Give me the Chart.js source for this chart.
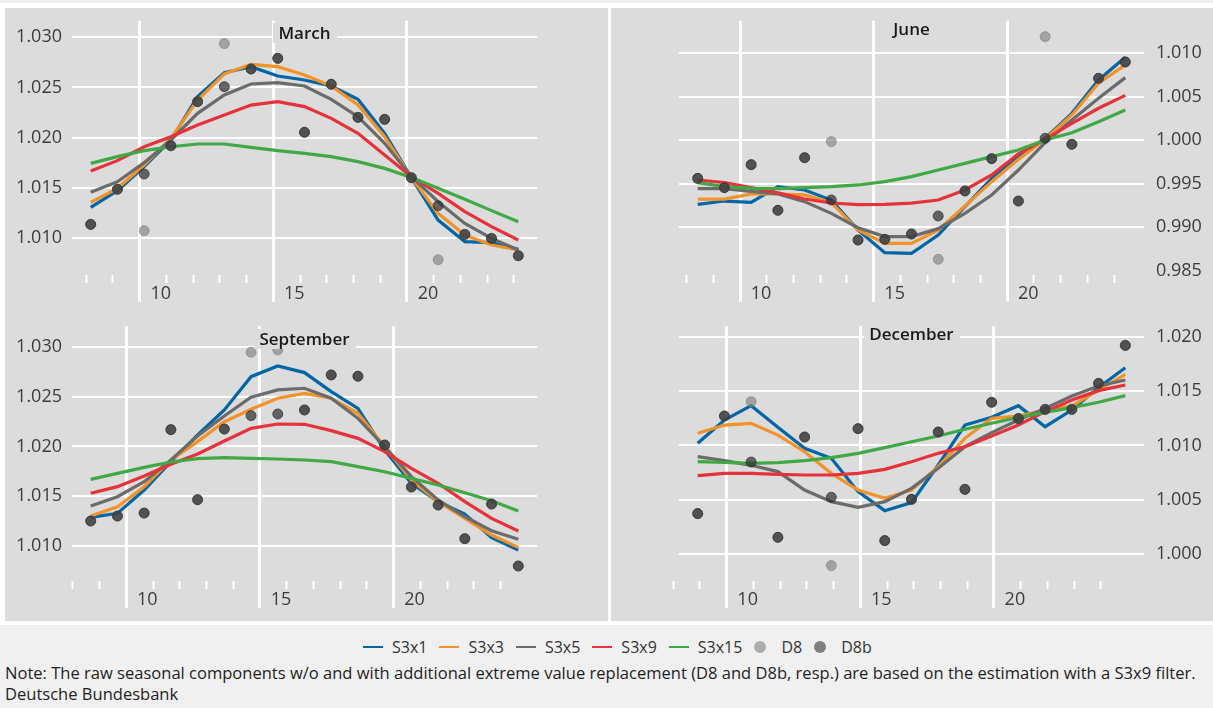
<!DOCTYPE html>
<html>
<head>
<meta charset="utf-8">
<script src="https://cdn.jsdelivr.net/npm/chart.js"></script>
<style>
  html, body { margin: 0; padding: 0; background: #ffffff; }
  body { width: 1213px; height: 708px; position: relative; overflow: hidden; font-family: 'Open Sans', sans-serif; }
  .strip { position: absolute; left: 0; top: 0; width: 1213px; height: 3px; background: #f0f0f0; }
  .panel { position: absolute; background: #dcdcdc; }
  .panel canvas { position: absolute; left: 0; top: 0; }
  .ptitle { position: absolute; transform: translateX(-50%); background: #dcdcdc; color: #1a1a1a;
            font-size: 17px; font-weight: 600; line-height: 20px; padding: 0 6px; white-space: nowrap; }
  #foot { position: absolute; left: 0; top: 625px; width: 1213px; height: 83px; background: #f0f0f0; }
  #legend { position: absolute; left: 363px; top: 10px; height: 24px; display: flex; align-items: center;
            font-size: 16px; color: #333; white-space: nowrap; }
  #legend .it { display: flex; align-items: center; margin-right: 12px; }
  #legend .ln { display: inline-block; width: 20px; height: 2px; margin-right: 9px; }
  #legend .dot { display: inline-block; width: 12px; height: 12px; border-radius: 50%; margin-right: 15px; }
  #note { position: absolute; left: 5px; top: 37px; font-size: 16.55px; line-height: 21px; color: #1e1e1e; white-space: nowrap; }
</style>
</head>
<body>
<div class="strip"></div>

<div class="panel" style="left:5px;top:8px;width:603px;height:302px;"><canvas id="cMar" width="603" height="302"></canvas></div>
<div class="panel" style="left:611px;top:8px;width:602px;height:302px;"><canvas id="cJun" width="602" height="302"></canvas></div>
<div class="panel" style="left:5px;top:310px;width:603px;height:311px;"><canvas id="cSep" width="603" height="311"></canvas></div>
<div class="panel" style="left:611px;top:310px;width:602px;height:311px;"><canvas id="cDec" width="602" height="311"></canvas></div>

<div class="ptitle" style="left:304.5px;top:22.8px;">March</div>
<div class="ptitle" style="left:911.5px;top:18.8px;">June</div>
<div class="ptitle" style="left:304.5px;top:328.8px;">September</div>
<div class="ptitle" style="left:911.5px;top:323.8px;">December</div>

<div id="foot">
  <div id="legend"></div>
  <div id="note">Note: The raw seasonal components w/o and with additional extreme value replacement (D8 and D8b, resp.) are based on the estimation with a S3x9 filter.<br>Deutsche Bundesbank</div>
</div>

<script>
// ---- data -------------------------------------------------------------
const YEARS = [2008, 2009, 2010, 2011, 2012, 2013, 2014, 2015, 2016, 2017, 2018, 2019, 2020, 2021, 2022, 2023, 2024];
const LABEL_YEARS = [2010, 2015, 2020];
const TICK_LABELS = ['10', '15', '20'];
const SERIES_NAMES = ['S3x1', 'S3x3', 'S3x5', 'S3x9', 'S3x15'];
const POINT_NAMES = ['D8', 'D8b'];

const MAR_TICKS = [1.010, 1.015, 1.020, 1.025, 1.030];
const MAR_S3X1  = [1.01303, 1.01469, 1.01709, 1.01975, 1.02408, 1.02647, 1.02707, 1.02614, 1.02574, 1.02514, 1.02381, 1.02042, 1.01599, 1.01176, 1.00960, 1.00950, 1.00884];
const MAR_S3X3  = [1.01353, 1.01493, 1.01725, 1.01992, 1.02374, 1.02634, 1.02730, 1.02707, 1.02624, 1.02514, 1.02324, 1.02008, 1.01599, 1.01243, 1.01027, 1.00927, 1.00877];
const MAR_S3X5  = [1.01453, 1.01559, 1.01749, 1.01975, 1.02241, 1.02424, 1.02534, 1.02547, 1.02514, 1.02381, 1.02208, 1.01942, 1.01609, 1.01359, 1.01143, 1.00993, 1.00877];
const MAR_S3X9  = [1.01666, 1.01769, 1.01908, 1.02008, 1.02125, 1.02225, 1.02324, 1.02358, 1.02308, 1.02191, 1.02042, 1.01825, 1.01609, 1.01443, 1.01260, 1.01110, 1.00977];
const MAR_S3X15 = [1.01742, 1.01809, 1.01869, 1.01908, 1.01935, 1.01935, 1.01902, 1.01869, 1.01842, 1.01809, 1.01759, 1.01692, 1.01602, 1.01493, 1.01383, 1.01270, 1.01160];
const MAR_D8    = [1.01133, 1.01483, 1.01070, 1.01918, 1.02358, 1.02937, 1.02684, 1.02790, 1.02052, 1.02531, 1.02201, 1.02181, 1.01599, 1.00780, 1.01033, 1.00993, 1.00820];
const MAR_D8B   = [1.01133, 1.01483, 1.01636, 1.01918, 1.02358, 1.02507, 1.02684, 1.02790, 1.02052, 1.02531, 1.02201, 1.02181, 1.01599, 1.01319, 1.01033, 1.00993, 1.00820];

const JUN_TICKS = [0.985, 0.990, 0.995, 1.000, 1.005, 1.010];
const JUN_S3X1  = [0.99261, 0.99299, 0.99284, 0.99464, 0.99426, 0.99311, 0.98965, 0.98704, 0.98697, 0.98908, 0.99234, 0.99560, 0.99810, 1.00021, 1.00309, 1.00693, 1.00954];
const JUN_S3X3  = [0.99322, 0.99322, 0.99380, 0.99380, 0.99369, 0.99280, 0.98965, 0.98812, 0.98812, 0.98965, 0.99242, 0.99522, 0.99779, 1.00010, 1.00290, 1.00655, 1.00866];
const JUN_S3X5  = [0.99441, 0.99441, 0.99411, 0.99380, 0.99292, 0.99157, 0.98992, 0.98889, 0.98889, 0.98981, 0.99157, 0.99369, 0.99656, 0.99971, 1.00232, 1.00482, 1.00720];
const JUN_S3X9  = [0.99541, 0.99511, 0.99453, 0.99395, 0.99322, 0.99276, 0.99257, 0.99261, 0.99276, 0.99311, 0.99426, 0.99599, 0.99841, 1.00010, 1.00194, 1.00367, 1.00516];
const JUN_S3X15 = [0.99511, 0.99464, 0.99445, 0.99441, 0.99453, 0.99464, 0.99484, 0.99522, 0.99580, 0.99656, 0.99733, 0.99810, 0.99887, 1.00002, 1.00086, 1.00213, 1.00347];
const JUN_D8    = [0.99560, 0.99453, 0.99718, 0.99192, 0.99798, 0.99983, 0.98850, 0.98858, 0.98919, 0.98628, 0.99415, 0.99787, 0.99299, 1.01192, 0.99952, 1.00712, 1.00900];
const JUN_D8B   = [0.99560, 0.99453, 0.99718, 0.99192, 0.99798, 0.99311, 0.98850, 0.98858, 0.98919, 0.99127, 0.99415, 0.99787, 0.99299, 1.00021, 0.99952, 1.00712, 1.00900];

const SEP_TICKS = [1.010, 1.015, 1.020, 1.025, 1.030];
const SEP_S3X1  = [1.01286, 1.01326, 1.01561, 1.01847, 1.02116, 1.02368, 1.02704, 1.02812, 1.02745, 1.02553, 1.02385, 1.01965, 1.01629, 1.01444, 1.01319, 1.01081, 1.00956];
const SEP_S3X3  = [1.01299, 1.01393, 1.01595, 1.01864, 1.02049, 1.02250, 1.02375, 1.02486, 1.02536, 1.02486, 1.02334, 1.01998, 1.01662, 1.01444, 1.01276, 1.01108, 1.00983];
const SEP_S3X5  = [1.01400, 1.01494, 1.01645, 1.01864, 1.02106, 1.02308, 1.02496, 1.02570, 1.02587, 1.02486, 1.02284, 1.01998, 1.01696, 1.01461, 1.01292, 1.01151, 1.01064];
const SEP_S3X9  = [1.01528, 1.01595, 1.01703, 1.01820, 1.01924, 1.02055, 1.02183, 1.02227, 1.02224, 1.02160, 1.02082, 1.01948, 1.01780, 1.01629, 1.01444, 1.01276, 1.01148];
const SEP_S3X15 = [1.01669, 1.01729, 1.01790, 1.01844, 1.01877, 1.01887, 1.01881, 1.01874, 1.01864, 1.01847, 1.01797, 1.01746, 1.01679, 1.01612, 1.01534, 1.01454, 1.01350];
const SEP_D8    = [1.01249, 1.01299, 1.01329, 1.02170, 1.01464, 1.02176, 1.02950, 1.02973, 1.02368, 1.02721, 1.02708, 1.02015, 1.01592, 1.01410, 1.01071, 1.01420, 1.00795];
const SEP_D8B   = [1.01249, 1.01299, 1.01329, 1.02170, 1.01464, 1.02176, 1.02311, 1.02328, 1.02368, 1.02721, 1.02708, 1.02015, 1.01592, 1.01410, 1.01071, 1.01420, 1.00795];

const DEC_TICKS = [1.000, 1.005, 1.010, 1.015, 1.020];
const DEC_S3X1  = [1.01020, 1.01234, 1.01366, 1.01167, 1.00974, 1.00882, 1.00576, 1.00401, 1.00475, 1.00821, 1.01188, 1.01259, 1.01366, 1.01173, 1.01326, 1.01534, 1.01715];
const DEC_S3X3  = [1.01112, 1.01188, 1.01204, 1.01096, 1.00943, 1.00744, 1.00591, 1.00515, 1.00591, 1.00806, 1.01066, 1.01250, 1.01271, 1.01326, 1.01363, 1.01510, 1.01654];
const DEC_S3X5  = [1.00897, 1.00861, 1.00818, 1.00760, 1.00591, 1.00484, 1.00432, 1.00484, 1.00606, 1.00790, 1.00989, 1.01118, 1.01234, 1.01341, 1.01455, 1.01547, 1.01602];
const DEC_S3X9  = [1.00723, 1.00744, 1.00744, 1.00735, 1.00729, 1.00729, 1.00744, 1.00781, 1.00851, 1.00928, 1.00989, 1.01087, 1.01188, 1.01311, 1.01418, 1.01504, 1.01556];
const DEC_S3X15 = [1.00851, 1.00845, 1.00836, 1.00842, 1.00861, 1.00888, 1.00928, 1.00980, 1.01035, 1.01087, 1.01149, 1.01204, 1.01259, 1.01305, 1.01348, 1.01397, 1.01458];
const DEC_D8    = [1.00374, 1.01271, 1.01403, 1.00156, 1.01078, 0.99896, 1.01155, 1.00126, 1.00505, 1.01124, 1.00597, 1.01397, 1.01247, 1.01332, 1.01332, 1.01571, 1.01920];
const DEC_D8B   = [1.00374, 1.01271, 1.00848, 1.00156, 1.01078, 1.00524, 1.01155, 1.00126, 1.00505, 1.01124, 1.00597, 1.01397, 1.01247, 1.01332, 1.01332, 1.01571, 1.01920];

// ---- styling ------------------------------------------------------------
const LINE_COLORS = ['#0066a6', '#f39228', '#6b6b6b', '#e5323b', '#40a844'];
const D8_FILL  = 'rgba(130,130,130,0.65)';
const D8B_FILL = 'rgba(45,45,45,0.7)';
const LEGEND_DOTS = ['#acacac', '#7f7f7f'];
const FONT = "'Open Sans', sans-serif";
const TICK_FONT = { family: FONT, size: 18 };
const TICK_COLOR = '#3c3c3c';
const X_PAD = 0.7;          // years of empty space on either side of the data
const TICK_ROW = 27;        // px above the plot bottom where the year ticks start

Chart.defaults.font.family = FONT;

function zeroPad(s) { s.paddingTop = 0; s.paddingBottom = 0; s.paddingLeft = 0; s.paddingRight = 0; }

function makePanel(id, month, lines, d8, d8b, yTicks, yMin, yMax, side, pad, hiddenGrid) {
  const shift = (month - 1) / 12;
  const xs = YEARS.map(y => y + shift);
  const xMin = xs[0] - X_PAD, xMax = xs[xs.length - 1] + X_PAD;
  const canvas = document.getElementById(id);
  const plotH = canvas.height - pad.top - pad.bottom;
  const rowVal = yMin + (yMax - yMin) * TICK_ROW / plotH;

  const datasets = [];
  lines.forEach((arr, k) => {
    datasets.push({
      label: SERIES_NAMES[k], data: arr.map((v, i) => ({ x: xs[i], y: v })),
      borderColor: LINE_COLORS[k], backgroundColor: LINE_COLORS[k], borderWidth: 3.2,
      pointRadius: 0, tension: 0, order: 6 - k, borderCapStyle: 'butt'
    });
  });
  datasets.push({
    label: POINT_NAMES[0], data: d8.map((v, i) => ({ x: xs[i], y: v })), showLine: false,
    pointRadius: 5, pointBorderWidth: 1, pointBackgroundColor: D8_FILL, pointBorderColor: D8_FILL, order: 1
  });
  datasets.push({
    label: POINT_NAMES[1], data: d8b.map((v, i) => ({ x: xs[i], y: v })), showLine: false,
    pointRadius: 5, pointBorderWidth: 1, pointBackgroundColor: D8B_FILL, pointBorderColor: D8B_FILL, order: 0
  });

  const axisW = side === 'left' ? 60 : 62;
  return new Chart(canvas, {
    type: 'line',
    data: { datasets },
    options: {
      responsive: false, animation: false, events: [],
      layout: { padding: pad },
      plugins: { legend: { display: false }, title: { display: false }, tooltip: { enabled: false } },
      scales: {
        x: {
          type: 'linear', min: xMin, max: xMax, position: { y: rowVal },
          grid: { color: '#ffffff', lineWidth: 3, drawTicks: false },
          border: { display: false },
          ticks: { font: TICK_FONT, color: TICK_COLOR, padding: 8, labelOffset: 21, maxRotation: 0, autoSkip: false,
                   callback: v => TICK_LABELS[LABEL_YEARS.indexOf(v)] },
          afterBuildTicks: s => { s.ticks = LABEL_YEARS.map(v => ({ value: v })); },
          afterFit: zeroPad
        },
        xm: {
          type: 'linear', axis: 'x', min: xMin, max: xMax, position: { y: rowVal },
          grid: { drawOnChartArea: false, drawTicks: true, tickLength: 8, tickWidth: 2, tickColor: '#ffffff', color: '#ffffff' },
          border: { display: false },
          ticks: { display: false, autoSkip: false },
          afterBuildTicks: s => { s.ticks = YEARS.map(v => ({ value: v })); },
          afterFit: zeroPad
        },
        y: {
          type: 'linear', position: side, min: yMin, max: yMax,
          grid: { lineWidth: 2, drawTicks: false,
                  color: c => (c.tick && hiddenGrid.some(h => Math.abs(h - c.tick.value) < 1e-9)) ? 'rgba(0,0,0,0)' : '#ffffff' },
          border: { display: false },
          ticks: { font: TICK_FONT, color: TICK_COLOR, padding: side === 'left' ? 10 : 12,
                   callback: v => v.toFixed(3) },
          afterBuildTicks: s => { s.ticks = yTicks.map(v => ({ value: v })); },
          afterFit: s => { s.width = axisW; zeroPad(s); }
        }
      }
    }
  });
}

makePanel('cMar', 3, [MAR_S3X1, MAR_S3X3, MAR_S3X5, MAR_S3X9, MAR_S3X15], MAR_D8, MAR_D8B,
          MAR_TICKS, 1.003613, 1.031657, 'left', { left: 7, right: 71, top: 12.7, bottom: 8.3 }, []);
makePanel('cJun', 6, [JUN_S3X1, JUN_S3X3, JUN_S3X5, JUN_S3X9, JUN_S3X15], JUN_D8, JUN_D8B,
          JUN_TICKS, 0.981399, 1.013754, 'right', { left: 68, right: 7, top: 12.7, bottom: 8.3 }, [0.985]);
makePanel('cSep', 9, [SEP_S3X1, SEP_S3X3, SEP_S3X5, SEP_S3X9, SEP_S3X15], SEP_D8, SEP_D8B,
          SEP_TICKS, 1.00375, 1.032147, 'left', { left: 7, right: 71, top: 16, bottom: 13.3 }, []);
makePanel('cDec', 12, [DEC_S3X1, DEC_S3X3, DEC_S3X5, DEC_S3X9, DEC_S3X15], DEC_D8, DEC_D8B,
          DEC_TICKS, 0.995092, 1.020983, 'right', { left: 68, right: 7, top: 16, bottom: 13.3 }, []);

// ---- shared legend ------------------------------------------------------
const legend = document.getElementById('legend');
SERIES_NAMES.forEach((name, k) => {
  const it = document.createElement('span'); it.className = 'it';
  const ln = document.createElement('i'); ln.className = 'ln'; ln.style.background = LINE_COLORS[k];
  it.appendChild(ln); it.appendChild(document.createTextNode(name)); legend.appendChild(it);
});
POINT_NAMES.forEach((name, k) => {
  const it = document.createElement('span'); it.className = 'it';
  const dot = document.createElement('i'); dot.className = 'dot'; dot.style.background = LEGEND_DOTS[k];
  it.appendChild(dot); it.appendChild(document.createTextNode(name)); legend.appendChild(it);
});
</script>
</body>
</html>
